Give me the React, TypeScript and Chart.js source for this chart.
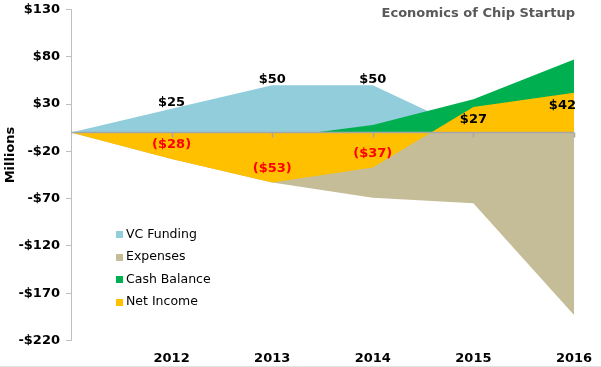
import React, { useEffect, useRef } from 'react';
import { Chart, registerables } from 'chart.js';

Chart.register(...registerables);

const FONT = "'DejaVu Sans', Verdana, sans-serif";

// ---- data ----
const categories = ['', '2012', '2013', '2014', '2015', '2016'];
const vcFunding = [0, 25, 50, 50, 0, 0];
const expenses = [0, -28, -53, -69, -75, -193];
const cashBalance = [0, -3, -6, 8, 35, 77];
const netIncome = [0, -28, -53, -37, 27, 42];
const vcLabelShown = [false, true, true, true, false, false];
const netLabelShown = [false, true, true, true, true, true];
const yMin = -220;
const yMax = 130;
const yStep = 50;
const legendItems = ['VC Funding', 'Expenses', 'Cash Balance', 'Net Income'];

const COLORS: Record<string, string> = {
  'VC Funding': '#92CDDC',
  Expenses: '#C4BD97',
  'Cash Balance': '#00B050',
  'Net Income': '#FFC000',
};

const money = (v: number) => (v < 0 ? '-$' + Math.abs(v) : '$' + v);
const netFmt = (v: number) => (v < 0 ? '($' + Math.abs(v) + ')' : '$' + v);

const overlayPlugin = {
  id: 'overlay',
  afterDatasetsDraw(chart: any) {
    const { ctx, chartArea, scales } = chart;
    const xs = scales.x;
    const ys = scales.y;
    const y0 = ys.getPixelForValue(0);
    ctx.save();
    // zero line with category ticks
    ctx.strokeStyle = '#a6a6a6';
    ctx.lineWidth = 1.5;
    ctx.beginPath();
    ctx.moveTo(chartArea.left, y0);
    ctx.lineTo(chartArea.right, y0);
    for (let i = 1; i < categories.length; i++) {
      const x = Math.round(xs.getPixelForValue(i)) + 0.5;
      ctx.moveTo(x, y0);
      ctx.lineTo(x, y0 + 5);
    }
    ctx.stroke();

    // data labels
    ctx.font = `bold 13px ${FONT}`;
    ctx.textBaseline = 'middle';
    ctx.textAlign = 'center';
    vcFunding.forEach((v, i) => {
      if (!vcLabelShown[i]) return;
      const x = xs.getPixelForValue(i);
      const y = ys.getPixelForValue(v);
      ctx.fillStyle = '#000';
      ctx.fillText(money(v), x, y - 6);
    });
    netIncome.forEach((v, i) => {
      if (!netLabelShown[i]) return;
      const text = netFmt(v);
      const w = ctx.measureText(text).width;
      let x = xs.getPixelForValue(i);
      x = Math.min(x, chartArea.right + 2 - w / 2);
      const py = ys.getPixelForValue(v);
      const y = v < 0 ? py - 14 : py + 13;
      ctx.fillStyle = v < 0 ? '#FF0000' : '#000';
      ctx.fillText(text, x, y);
    });
    ctx.restore();
  },
  afterDraw(chart: any) {
    const { ctx, chartArea, width, height } = chart;
    ctx.save();
    // title
    ctx.font = `bold 13px ${FONT}`;
    ctx.fillStyle = '#595959';
    ctx.textAlign = 'right';
    ctx.textBaseline = 'middle';
    ctx.fillText('Economics of Chip Startup', chartArea.right + 1, 14);

    // y-axis title
    ctx.save();
    ctx.translate(11, 155);
    ctx.rotate(-Math.PI / 2);
    ctx.textAlign = 'center';
    ctx.fillStyle = '#000';
    ctx.fillText('Millions', 0, 0);
    ctx.restore();

    // legend
    ctx.font = `12.5px ${FONT}`;
    ctx.textAlign = 'left';
    legendItems.forEach((name, i) => {
      const cy = 234.5 + i * 22.5;
      ctx.fillStyle = COLORS[name];
      ctx.fillRect(116, Math.round(cy - 3.5), 7, 7);
      ctx.fillStyle = '#000';
      ctx.fillText(name, 126, cy);
    });

    // bottom frame line
    ctx.strokeStyle = '#e3e3e3';
    ctx.lineWidth = 1;
    ctx.beginPath();
    ctx.moveTo(0, height - 0.5);
    ctx.lineTo(width, height - 0.5);
    ctx.stroke();
    ctx.restore();
  },
};

export default function App() {
  const ref = useRef<HTMLCanvasElement>(null);
  useEffect(() => {
    document.body.style.margin = '0';
    const mk = (label: string, data: number[], order: number) => ({
      label,
      data,
      backgroundColor: COLORS[label],
      borderColor: 'rgba(0,0,0,0)',
      borderWidth: 0,
      pointRadius: 0,
      pointHoverRadius: 0,
      fill: 'origin',
      tension: 0,
      order,
    });
    const chart = new Chart(ref.current as HTMLCanvasElement, {
      type: 'line',
      data: {
        labels: categories,
        datasets: [
          mk('VC Funding', vcFunding, 2),
          mk('Expenses', expenses, 3),
          mk('Cash Balance', cashBalance, 1),
          mk('Net Income', netIncome, 0),
        ],
      },
      options: {
        responsive: false,
        animation: false,
        layout: { padding: { top: 9.5, right: 27, left: 0, bottom: 0 } },
        plugins: {
          legend: { display: false },
          tooltip: { enabled: false },
          title: { display: false },
        },
        scales: {
          x: {
            type: 'category',
            offset: false,
            grid: { display: false },
            border: { display: false },
            ticks: {
              font: { family: FONT, size: 13, weight: 'bold' },
              color: '#000',
              padding: 2,
              maxRotation: 0,
              autoSkip: false,
            },
            afterFit: (s: any) => {
              s.height = 26.5;
              s.paddingLeft = 0;
              s.paddingRight = 0;
            },
          },
          y: {
            min: yMin,
            max: yMax,
            ticks: {
              stepSize: yStep,
              callback: (v: any) => money(Number(v)),
              font: { family: FONT, size: 13, weight: 'bold' },
              color: '#000',
              padding: 6,
            },
            grid: { drawOnChartArea: false, drawTicks: true, tickLength: 5, color: '#bfbfbf' },
            border: { display: true, color: '#bfbfbf' },
            afterFit: (s: any) => {
              s.width = 71;
              s.paddingTop = 0;
              s.paddingBottom = 0;
            },
          },
        },
      } as any,
      plugins: [overlayPlugin],
    });
    return () => chart.destroy();
  }, []);
  return (
    <div style={{ width: 601, height: 367 }}>
      <canvas ref={ref} width={601} height={367} style={{ display: 'block' }} />
    </div>
  );
}
